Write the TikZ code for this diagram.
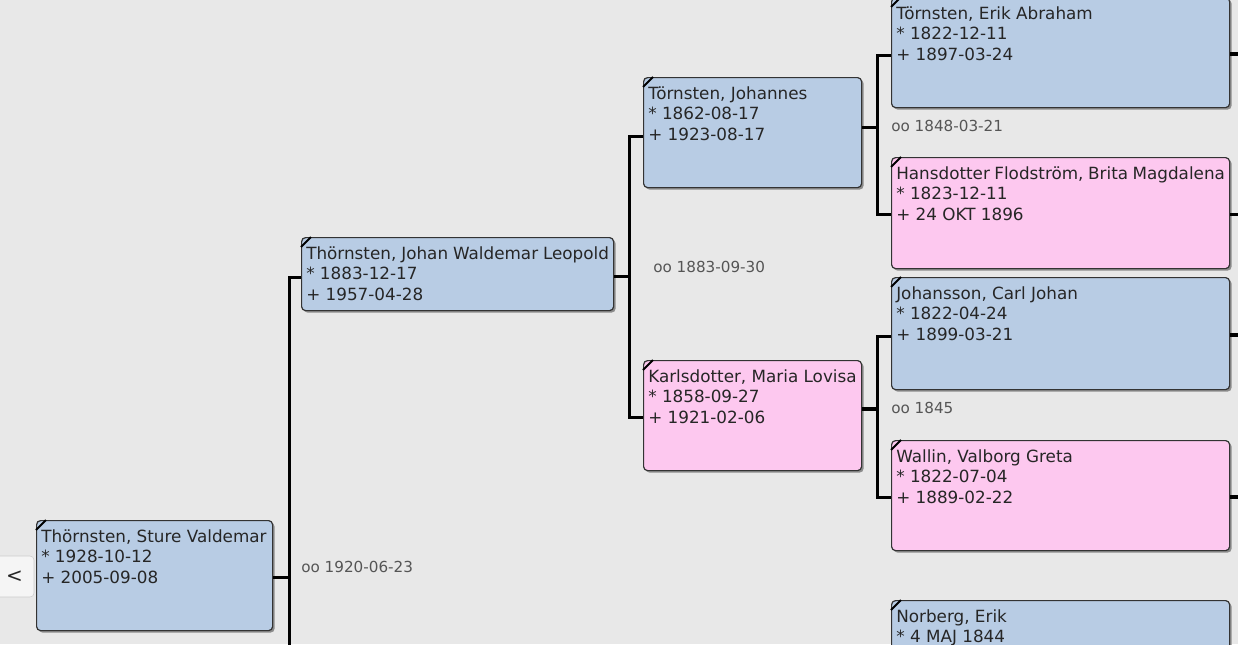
\documentclass[tikz,border=0pt]{standalone}
\usepackage{fontspec}
\setmainfont{DejaVu Sans}
\usetikzlibrary{shadows}
\definecolor{bg}{HTML}{E8E8E8}
\definecolor{maleblue}{HTML}{B8CCE4}
\definecolor{femalepink}{HTML}{FDC8EF}
\definecolor{boxline}{HTML}{333333}
\definecolor{oogray}{HTML}{555555}
% card text: width and height of the box in px
\newcommand\card[3]{\parbox[t][\dimexpr #2pt*3/4-13.6pt\relax][t]{\dimexpr #1pt*3/4-7pt\relax}{#3}}
\begin{document}
\begin{tikzpicture}[x=0.75pt,y=-0.75pt,
  every node/.style={font=\fontsize{12.6pt}{15.4pt}\selectfont,text=black!85},
  pbox/.style={draw=boxline,line width=0.9pt,rounded corners=3pt,anchor=north west,inner xsep=3.5pt,inner ysep=6.8pt,
    drop shadow={shadow xshift=1.5pt,shadow yshift=-1.5pt,fill=black!45,opacity=1}},
  male/.style={pbox,fill=maleblue},
  female/.style={pbox,fill=femalepink},
  link/.style={line width=2.4pt,black},
  tick/.style={line width=1.4pt,black},
  oo/.style={anchor=west,inner sep=0pt,text=oogray,font=\fontsize{11.4pt}{14pt}\selectfont},
  btn/.style={draw=black!20,fill=black!4,rounded corners=3pt,minimum width=29.25pt,minimum height=30.75pt,inner sep=0pt}]
\useasboundingbox (0,0) rectangle (1238,644);
\fill[bg] (0,0) rectangle (1238,644);
\clip (0,0) rectangle (1238,644);

\node[btn] (back) at (14.5,576.5) {\fontsize{15pt}{15pt}\selectfont<};

\node[male] (sture) at (36,520) {\card{236}{110}{Thörnsten, Sture Valdemar\\{}* 1928-10-12\\+ 2005-09-08}};
\node[male] (johan) at (301,237) {\card{312}{73}{Thörnsten, Johan Waldemar Leopold\\{}* 1883-12-17\\+ 1957-04-28}};
\node[male] (johannes) at (643,77) {\card{218}{110}{Törnsten, Johannes\\{}* 1862-08-17\\+ 1923-08-17}};
\node[female] (maria) at (643,360) {\card{218}{110}{Karlsdotter, Maria Lovisa\\{}* 1858-09-27\\+ 1921-02-06}};
\node[male] (erik) at (891,-3) {\card{338}{110}{Törnsten, Erik Abraham\\{}* 1822-12-11\\+ 1897-03-24}};
\node[female] (brita) at (891,157) {\card{338}{111}{Hansdotter Flodström, Brita Magdalena\\{}* 1823-12-11\\+ 24 OKT 1896}};
\node[male] (carl) at (891,277) {\card{338}{112}{Johansson, Carl Johan\\{}* 1822-04-24\\+ 1899-03-21}};
\node[female] (valborg) at (891,440) {\card{338}{110}{Wallin, Valborg Greta\\{}* 1822-07-04\\+ 1889-02-22}};
\node[male] (norberg) at (891,600) {\card{338}{110}{Norberg, Erik\\{}* 4 MAJ 1844}};

\foreach \p in {sture,johan,johannes,maria,erik,brita,carl,valborg,norberg}
  \draw[tick] ([yshift=-7.5pt]\p.north west) -- ([xshift=7.5pt]\p.north west);

\node[oo] (oo1) at (301,567) {oo 1920-06-23};
\node[oo] (oo2) at (653,267) {oo 1883-09-30};
\node[oo] (oo3) at (891,126) {oo 1848-03-21};
\node[oo] (oo4) at (891,408) {oo 1845};

\coordinate (bottom) at (0,660);
\coordinate (rim) at (1240,0);
\coordinate (f1) at ([xshift=12pt,yshift=-1.5pt]sture.east);
\coordinate (f2) at ([xshift=11.25pt,yshift=-1.5pt]johan.east);
\coordinate (f3) at ([xshift=11.25pt,yshift=3.75pt]johannes.east);
\coordinate (f4) at ([xshift=11.25pt,yshift=5pt]maria.east);

\draw[link] ([yshift=-1.5pt]sture.east) -- (f1);
\draw[link] ([yshift=-2.25pt]johan.west) -| (f1) -- (f1 |- bottom);
\draw[link] ([yshift=-1.5pt]johan.east) -- (f2);
\draw[link] ([yshift=-3pt]johannes.west) -| (f2) |- ([yshift=-1.5pt]maria.west);
\draw[link] ([yshift=3.75pt]johannes.east) -- (f3);
\draw[link] ([yshift=-2.25pt]erik.west) -| (f3) |- ([yshift=-1.1pt]brita.west);
\draw[link] ([yshift=5pt]maria.east) -- (f4);
\draw[link] ([yshift=-2.25pt]carl.west) -| (f4) |- ([yshift=-1.5pt]valborg.west);

\foreach \p in {erik,brita,carl,valborg}
  \draw[link] ([yshift=-1pt]\p.east) -- ([yshift=-1pt]\p.east -| rim);
\end{tikzpicture}
\end{document}
